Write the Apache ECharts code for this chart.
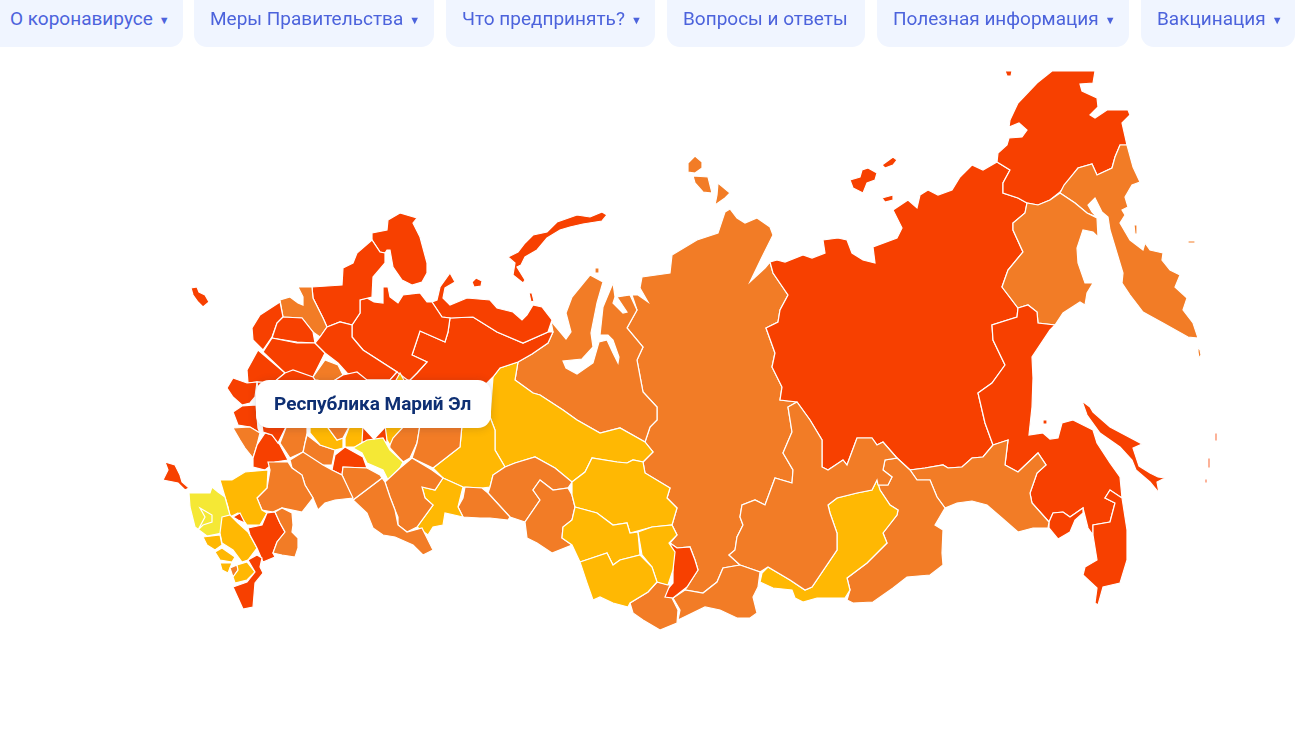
<!DOCTYPE html>
<html lang="ru">
<head>
<meta charset="utf-8">
<title>Карта регионов</title>
<script src="https://cdn.jsdelivr.net/npm/echarts@6/dist/echarts.min.js"></script>
<style>
  html, body { margin: 0; padding: 0; background: #fff; overflow: hidden; }
  #chart { position: absolute; left: 0; top: 0; width: 1300px; height: 755px; }
  .navbtn {
    position: absolute; top: 0; height: 47px; box-sizing: border-box;
    background: #f0f5ff; border-radius: 0 0 13px 13px; color: #4c63dc;
    font: 19px/38px Roboto, sans-serif; white-space: nowrap;
  }
  .navbtn span { font-size: 11px; margin-left: 6px; vertical-align: 1px; }
</style>
</head>
<body>
<div id="chart"></div>
<div id="nav"></div>
<script>
const menuItems = ['О коронавирусе', 'Меры Правительства', 'Что предпринять?', 'Вопросы и ответы', 'Полезная информация', 'Вакцинация'];
const menuHasArrow = [true, true, true, false, true, true];

const hoveredRegion = 'Республика Марий Эл';

const levelColors = ['#f5e835', '#ffb803', '#f27c26', '#f74000'];

// base map: no geo file is available offline, outlines are traced by hand, in page pixels
const regionNames = [
  'Красноярский край', 'Республика Саха (Якутия)', 'Чукотский АО', 'Камчатский край', 'Магаданская область',
  'Хабаровский край', 'Приморский край', 'Еврейская АО', 'Амурская область', 'Забайкальский край',
  'Республика Бурятия', 'Иркутская область', 'Республика Тыва', 'Республика Хакасия', 'Республика Алтай',
  'Сахалинская область', 'Ямало-Ненецкий АО', 'Ханты-Мансийский АО', 'Свердловская область', 'Тюменская область',
  'Курганская область', 'Омская область', 'Томская область', 'Новосибирская область', 'Кемеровская область',
  'Алтайский край', 'Республика Коми', 'Ненецкий АО', 'Архангельская область', 'Мурманская область',
  'Республика Карелия', 'Ленинградская область', 'Псковская область', 'Новгородская область', 'Тверская область',
  'Вологодская область', 'Ярославская область', 'Смоленская область', 'Московская область', 'Костромская область',
  'Кировская область', 'Брянская область', 'Курская область', 'Белгородская область', 'Воронежская область',
  'Тульская область', 'Липецкая область', 'Тамбовская область', 'Рязанская область', 'Владимирская область',
  'Нижегородская область', 'Чувашская Республика', 'Удмуртская Республика', 'Республика Башкортостан', 'Республика Татарстан',
  'Республика Марий Эл', 'Оренбургская область', 'Самарская область', 'Пензенская область', 'Саратовская область',
  'Ульяновская область', 'Волгоградская область', 'Ростовская область', 'Краснодарский край', 'Республика Адыгея',
  'Майкоп', 'Ставропольский край', 'Республика Калмыкия', 'Астраханская область', 'Карачаево-Черкесия',
  'Кабардино-Балкария', 'Северная Осетия', 'Ингушетия', 'Чеченская Республика', 'Республика Дагестан',
  'Калининградская область', 'Республика Крым', 'Севастополь'
];
const regionLevels = [
  3, 4, 4, 3, 3,
  4, 4, 4, 3, 3,
  2, 3, 3, 4, 3,
  4, 3, 2, 2, 3,
  3, 3, 2, 2, 2,
  2, 4, 4, 4, 4,
  4, 3, 4, 4, 4,
  4, 3, 4, 4, 4,
  2, 4, 4, 3, 4,
  4, 3, 3, 2, 3,
  2, 4, 3, 3, 2,
  1, 2, 3, 4, 3,
  3, 3, 3, 2, 1,
  1, 2, 4, 3, 2,
  2, 2, 3, 2, 4,
  4, 4, 4
];
const regionOutlines = [
  ['730,209 737,218 745,223 757,218 770,227 773,235 762,257 750,282 765,268 770,262 773,273 788,295 780,310 778,322 766,328 775,353 772,367 782,387 780,400 797,402 788,407 792,432 783,453 793,470 792,483 775,478 765,505 755,500 742,505 740,517 743,525 737,537 735,550 729,555 740,565 723,568 717,582 703,593 685,590 698,570 695,560 690,547 677,548 670,543 677,535 672,525 677,508 667,498 670,488 645,473 643,462 653,452 645,442 650,427 657,420 657,407 643,392 637,360 643,347 627,328 637,310 632,295 638,295 648,302 640,288 642,277 670,273 672,255 697,240 718,233 725,212',
   '688,163 695,156 702,162 702,168 695,173 688,172', '693,176 708,177 712,193 703,192 695,183', '718,183 730,193 725,198 715,205 717,195'],
  ['997,162 983,170 972,165 960,177 952,190 938,195 928,190 920,195 917,208 908,200 893,210 902,228 897,238 873,247 875,263 863,260 852,253 847,240 838,238 823,240 825,253 812,258 803,255 785,262 777,260 770,262 773,273 788,295 780,310 778,322 766,328 775,353 772,367 782,387 780,400 797,402 810,420 822,440 822,467 828,470 843,460 847,465 857,438 872,438 877,445 883,442 897,458 910,470 925,468 943,465 948,468 962,467 972,458 983,457 993,445 985,423 978,393 992,383 1005,365 993,340 992,325 1017,317 1018,308 1002,287 1008,270 1023,252 1013,230 1013,223 1025,213 1027,203 1018,198 1003,193 1003,183 1010,170',
   '850,180 860,177 862,170 868,168 877,173 875,180 867,183 863,193 853,188', '882,165 893,157 897,160 893,165 885,168', '882,198 893,195 893,200 885,202'],
  ['1052,71 1095,71 1093,83 1080,84 1082,91 1097,98 1098,107 1090,115 1095,118 1107,110 1128,110 1130,115 1122,123 1127,145 1120,145 1115,157 1112,168 1097,175 1092,164 1078,168 1060,192 1050,200 1038,205 1027,203 1018,198 1003,193 1003,183 1010,170 997,162 998,153 1007,145 1009,138 1022,137 1027,130 1019,123 1009,127 1010,120 1018,103 1037,83',
   '1005,71 1012,71 1011,76 1007,76'],
  ['1120,145 1127,145 1133,167 1140,182 1132,185 1125,197 1128,207 1122,210 1125,215 1120,223 1130,240 1143,250 1145,243 1150,250 1163,253 1162,260 1170,270 1180,275 1175,287 1187,298 1183,310 1193,323 1198,338 1188,337 1163,323 1143,312 1130,295 1122,283 1123,273 1110,230 1108,217 1102,212 1095,198 1088,205 1092,212 1097,217 1087,213 1075,203 1060,193 1064,185 1078,168 1092,164 1097,175 1112,168 1115,157',
   '1134,225 1137,225 1137,234 1135,234', '1188,241 1195,241 1195,243 1188,243', '1198,347 1200,350 1201,355 1199,358 1198,352'],
  ['1060,193 1075,203 1087,213 1097,218 1098,237 1093,232 1083,230 1077,248 1078,263 1085,283 1093,283 1087,293 1085,305 1080,302 1063,313 1055,325 1038,323 1037,312 1028,305 1018,308 1002,287 1008,270 1023,252 1013,230 1013,223 1025,213 1027,203 1038,205 1050,200'],
  ['1018,308 1028,305 1037,312 1038,323 1055,325 1050,330 1032,357 1033,378 1032,407 1029,435 1043,433 1050,439 1058,438 1062,423 1073,420 1083,425 1093,430 1097,443 1110,463 1120,477 1122,498 1110,490 1105,498 1115,503 1110,522 1093,525 1093,535 1088,528 1083,508 1070,517 1063,512 1053,513 1049,522 1032,503 1030,493 1037,473 1046,465 1038,453 1018,472 1005,465 1008,440 993,445 985,423 978,393 992,383 1005,365 993,340 992,325 1017,317'],
  ['1122,498 1127,530 1127,560 1120,583 1103,587 1098,605 1095,603 1097,588 1083,575 1085,567 1097,560 1093,535 1093,525 1110,522 1115,503 1105,498 1110,490'],
  ['1049,522 1053,513 1063,512 1070,517 1083,508 1083,513 1075,520 1070,532 1058,539 1049,528'],
  ['910,470 917,480 930,480 937,497 945,508 957,503 972,501 987,505 1002,518 1018,532 1033,528 1048,528 1049,522 1032,503 1030,493 1037,473 1046,465 1038,453 1018,472 1005,465 1008,440 993,445 983,457 972,458 962,467 948,468 943,465 925,468'],
  ['897,458 885,460 883,470 892,477 888,485 878,485 880,490 890,505 898,510 897,515 883,533 887,543 867,563 847,578 850,590 847,600 853,603 873,602 893,588 907,577 930,575 943,565 942,553 943,530 935,525 945,508 937,497 930,480 917,480 910,470'],
  ['877,480 880,490 890,505 898,510 897,515 883,533 887,543 867,563 847,578 850,590 845,598 817,598 803,602 795,598 792,590 773,588 760,582 762,573 768,567 790,580 805,590 812,587 837,550 837,533 830,513 828,505 837,498 857,493 872,490'],
  ['797,402 788,407 792,432 783,453 793,470 792,483 775,478 765,505 755,500 742,505 740,517 743,525 737,537 735,550 729,555 740,565 760,572 768,567 790,580 805,590 812,587 837,550 837,533 830,513 828,505 837,498 857,493 872,490 877,480 878,485 888,485 892,477 883,470 885,460 897,458 883,442 877,445 872,438 857,438 847,465 843,460 828,470 822,467 822,440 810,420'],
  ['740,565 760,572 758,587 753,597 757,613 750,618 737,618 720,610 705,607 678,620 680,610 673,598 685,590 703,593 717,582 723,568'],
  ['670,543 677,548 690,547 695,560 698,570 687,587 673,598 663,598 665,592 673,583 673,563 673,553'],
  ['630,603 648,592 657,582 670,585 665,597 672,598 678,610 677,623 660,630 643,620 633,613'],
  ['1082,401 1090,407 1093,412 1110,427 1142,444 1133,448 1139,466 1150,473 1158,477 1165,478 1157,482 1159,493 1150,482 1136,470 1132,460 1120,447 1100,433 1087,415',
   '1043,420 1047,420 1047,424 1043,424', '1215,433 1217,433 1217,441 1215,441', '1208,458 1210,458 1210,468 1208,468', '1205,479 1207,479 1207,483 1205,483'],
  ['551,321 566,339 571,332 566,313 572,297 590,275 603,282 597,303 591,333 593,347 582,359 563,361 566,368 577,374 593,363 599,342 607,340 613,353 618,363 619,357 613,340 608,335 600,335 603,307 613,283 615,297 613,303 623,313 627,312 617,297 630,295 637,310 627,328 643,347 637,360 643,392 657,407 657,420 650,427 645,442 620,428 600,433 577,420 563,410 540,395 533,393 515,380 518,362 532,354 548,343 553,332',
   '595,268 599,268 599,273 595,273'],
  ['518,362 515,380 533,393 540,395 563,410 577,420 600,433 620,428 645,442 653,452 643,462 633,460 627,463 617,462 592,458 585,472 572,482 555,468 535,457 515,463 505,467 495,450 495,430 490,417 493,377 500,368'],
  ['470,400 490,417 495,430 495,450 505,467 493,475 490,487 482,488 463,487 443,478 433,468 460,447 462,425'],
  ['505,467 515,463 535,457 555,468 572,482 568,488 553,490 540,480 533,490 540,500 525,522 510,517 488,493 490,487 493,475'],
  ['465,487 482,488 488,493 510,517 508,520 490,518 480,518 463,517 458,507 463,498'],
  ['540,480 553,490 568,488 572,495 575,507 572,520 563,527 562,538 572,545 552,553 537,543 527,538 525,522 540,500 533,490'],
  ['572,482 585,472 592,458 617,462 627,463 633,460 643,462 645,473 670,488 667,498 677,508 672,525 652,527 630,533 627,523 613,525 597,513 575,507 572,495'],
  ['575,507 597,513 613,525 627,523 630,533 638,532 640,555 620,560 613,565 607,553 580,562 572,545 562,538 563,527 572,520'],
  ['672,525 677,535 669,543 675,552 673,570 668,585 657,582 652,567 642,555 638,532 652,527'],
  ['580,562 607,553 613,565 620,560 640,555 652,567 657,582 648,592 630,603 628,607 613,603 600,597 593,600 587,583'],
  ['450,318 473,317 497,332 523,343 548,332 553,332 548,343 532,354 518,362 500,368 493,377 470,400 420,400 410,380 417,373 427,362 412,355 420,331 445,342 448,332'],
  ['432,302 437,300 440,287 450,273 455,282 445,288 443,298 450,305 467,298 490,300 497,308 513,312 522,320 527,315 533,305 542,307 552,320 548,332 523,343 497,332 473,317 450,318 442,317',
   '472,282 476,278 482,281 481,286 474,287', '529,293 532,293 534,301 531,302'],
  ['352,325 360,313 360,300 367,298 374,302 383,303 383,287 388,287 390,297 398,303 403,295 420,293 427,302 432,302 442,317 450,318 448,332 445,342 420,331 412,355 427,362 417,373 410,380 390,380 397,372 363,350 352,337',
   '508,257 518,252 525,243 533,235 547,232 557,222 577,215 590,217 602,212 607,215 602,221 583,224 570,227 560,230 547,238 537,250 525,257 521,265 517,267 525,280 523,283 513,275 515,263'],
  ['372,240 372,233 387,230 388,220 400,213 417,218 413,223 420,237 427,263 427,273 422,282 412,285 402,280 393,267 390,250 387,250 385,253 380,252'],
  ['312,287 342,285 343,268 353,263 357,253 372,240 380,252 385,253 385,263 373,277 372,297 360,300 360,313 352,325 340,322 327,327 323,318 313,298'],
  ['298,287 312,287 313,298 323,318 327,327 320,337 313,332 302,318 283,317 280,300 290,297 298,303 303,305 303,297'],
  ['280,302 283,317 277,323 272,337 263,350 253,340 252,328 260,315'],
  ['283,317 302,318 313,332 315,343 297,342 272,338 277,323'],
  ['272,338 297,343 315,343 325,353 313,377 285,373 263,352'],
  ['327,327 340,322 352,325 352,337 363,350 397,372 390,380 367,380 347,373 338,363 325,353 315,343 320,337'],
  ['325,360 338,365 343,375 332,382 315,380 313,377'],
  ['258,350 285,373 273,383 257,382 248,383 247,370'],
  ['285,373 293,370 313,377 315,380 332,382 330,400 260,400 257,382 273,383'],
  ['332,382 343,375 357,372 367,380 390,380 397,372 410,382 400,400 340,400'],
  ['395,382 400,373 405,382 403,400 397,400'],
  ['227,388 233,378 247,383 257,382 255,397 250,403 242,405 233,397'],
  ['233,412 242,406 256,405 258,428 260,433 250,427 238,425'],
  ['233,428 250,427 260,433 257,445 253,458 245,448 240,440'],
  ['265,433 272,435 280,445 288,460 275,462 265,470 253,467 253,458 257,445'],
  ['262,425 287,425 278,443 272,435 263,432'],
  ['287,425 307,425 307,433 305,443 303,452 290,458 280,443'],
  ['307,435 320,445 335,450 332,465 323,465 310,460 303,453 305,443'],
  ['310,425 326,425 337,440 343,438 343,448 335,450 320,445 310,433'],
  ['326,425 350,425 343,438 337,440'],
  ['345,438 350,425 363,425 363,442 355,447 345,447'],
  ['363,425 387,425 387,442 362,442'],
  ['387,425 420,425 417,443 410,458 403,462 390,448'],
  ['420,425 462,425 460,447 433,468 412,458 417,443'],
  ['385,425 405,425 393,438 390,445 387,440'],
  ['353,448 367,440 383,438 390,450 403,462 400,468 388,480 383,470 367,463 362,453'],
  ['443,478 463,487 458,507 463,517 445,513 443,525 433,527 428,535 417,527 433,505 425,498 422,487 435,490'],
  ['385,482 400,468 412,458 432,470 443,478 435,490 422,487 425,498 433,505 417,527 407,532 398,525 398,517 395,510 390,497'],
  ['332,470 335,455 345,447 363,457 367,468 343,467 342,475'],
  ['353,500 382,478 385,482 390,497 395,510 398,525 407,532 422,528 428,540 433,550 423,555 413,545 395,537 383,535 373,528 367,513'],
  ['343,467 367,468 380,475 382,478 353,500 342,475'],
  ['290,460 303,452 323,465 332,470 342,475 353,498 335,500 325,503 318,510 313,498 305,485 302,475 292,468'],
  ['268,462 288,462 292,468 302,475 305,485 313,498 302,512 282,508 273,512 262,510 257,498 267,488 270,470'],
  ['220,480 232,480 245,472 268,470 267,488 257,498 262,510 267,513 260,525 247,525 238,513 230,517 228,507 225,497'],
  ['189,493 210,493 212,487 218,492 225,497 228,508 230,515 222,520 222,533 207,536 195,527 190,507'],
  ['200,508 212,515 212,522 203,525 198,530 205,517'],
  ['222,517 230,515 238,523 248,532 257,548 248,560 242,562 233,550 222,543 220,533'],
  ['248,528 262,525 267,513 275,512 280,523 285,532 277,542 273,553 275,557 263,562 257,548 250,535'],
  ['275,512 282,508 292,513 293,525 292,532 298,538 298,548 295,557 282,555 273,553 277,542 285,532 280,523'],
  ['203,537 220,535 222,545 215,550 207,545'],
  ['215,552 222,548 235,557 232,562 220,560'],
  ['220,563 232,563 228,573 222,570'],
  ['230,568 237,565 238,570 233,577'],
  ['237,565 247,562 255,572 247,580 235,583 233,577 238,570'],
  ['248,560 257,555 262,558 260,567 263,573 255,583 253,607 243,609 233,587 247,582 255,572'],
  ['191,288 197,287 199,292 205,295 209,302 203,307 198,302 193,295'],
  ['165,462 175,465 180,475 182,482 189,488 185,490 178,483 163,480 168,470'],
  ['233,517 240,513 245,523 238,520']
];

function parseRing(str) {
  return str.split(' ').map(p => p.split(',').map(Number));
}

const russiaGeo = {
  type: 'FeatureCollection',
  features: regionNames.map((name, i) => ({
    type: 'Feature',
    properties: { name: name },
    geometry: {
      type: 'MultiPolygon',
      coordinates: regionOutlines[i].map(s => [parseRing(s)])
    }
  }))
};
echarts.registerMap('russia', russiaGeo);

const chart = echarts.init(document.getElementById('chart'));
const option = {
  animation: false,
  visualMap: {
    show: false,
    type: 'piecewise',
    pieces: levelColors.map((c, i) => ({ value: i + 1, color: c }))
  },
  series: [
    {
      type: 'map',
      map: 'russia',
      projection: { project: p => p, unproject: p => p },
      boundingCoords: [[0, 0], [1300, 755]],
      left: 0,
      top: 0,
      width: 1300,
      height: 755,
      aspectScale: 1,
      roam: false,
      silent: true,
      label: { show: false },
      itemStyle: { borderColor: '#fff', borderWidth: 1.2 },
      data: regionNames.map((name, i) => ({ name: name, value: regionLevels[i] }))
    }
  ],
  graphic: [
    {
      type: 'polygon', z: 100,
      shape: { points: [[361, 426], [387, 426], [374, 440]] },
      style: { fill: '#fff' }
    },
    {
      type: 'rect', z: 99,
      shape: { x: 256, y: 380, width: 235, height: 48, r: 13 },
      style: { fill: '#fff', shadowBlur: 8, shadowColor: 'rgba(40,40,60,0.18)', shadowOffsetY: 1 }
    },
    {
      type: 'text', z: 101,
      x: 274, y: 405,
      style: { text: hoveredRegion, fill: '#0e2f73', font: 'bold 19px Roboto, sans-serif', verticalAlign: 'middle' }
    }
  ]
};
chart.setOption(option);

// top menu
const navLefts = [-20, 194, 446, 667, 877, 1141];
const navRights = [183, 434, 655, 865, 1129, 1295];
const nav = document.getElementById('nav');
menuItems.forEach((txt, i) => {
  const btn = document.createElement('div');
  btn.className = 'navbtn';
  btn.style.left = navLefts[i] + 'px';
  btn.style.width = (navRights[i] - navLefts[i]) + 'px';
  btn.style.paddingLeft = (i === 0 ? 30 : 16) + 'px';
  btn.textContent = txt;
  if (menuHasArrow[i]) {
    const arrow = document.createElement('span');
    arrow.textContent = '▼';
    btn.appendChild(arrow);
  }
  nav.appendChild(btn);
});
</script>
</body>
</html>
